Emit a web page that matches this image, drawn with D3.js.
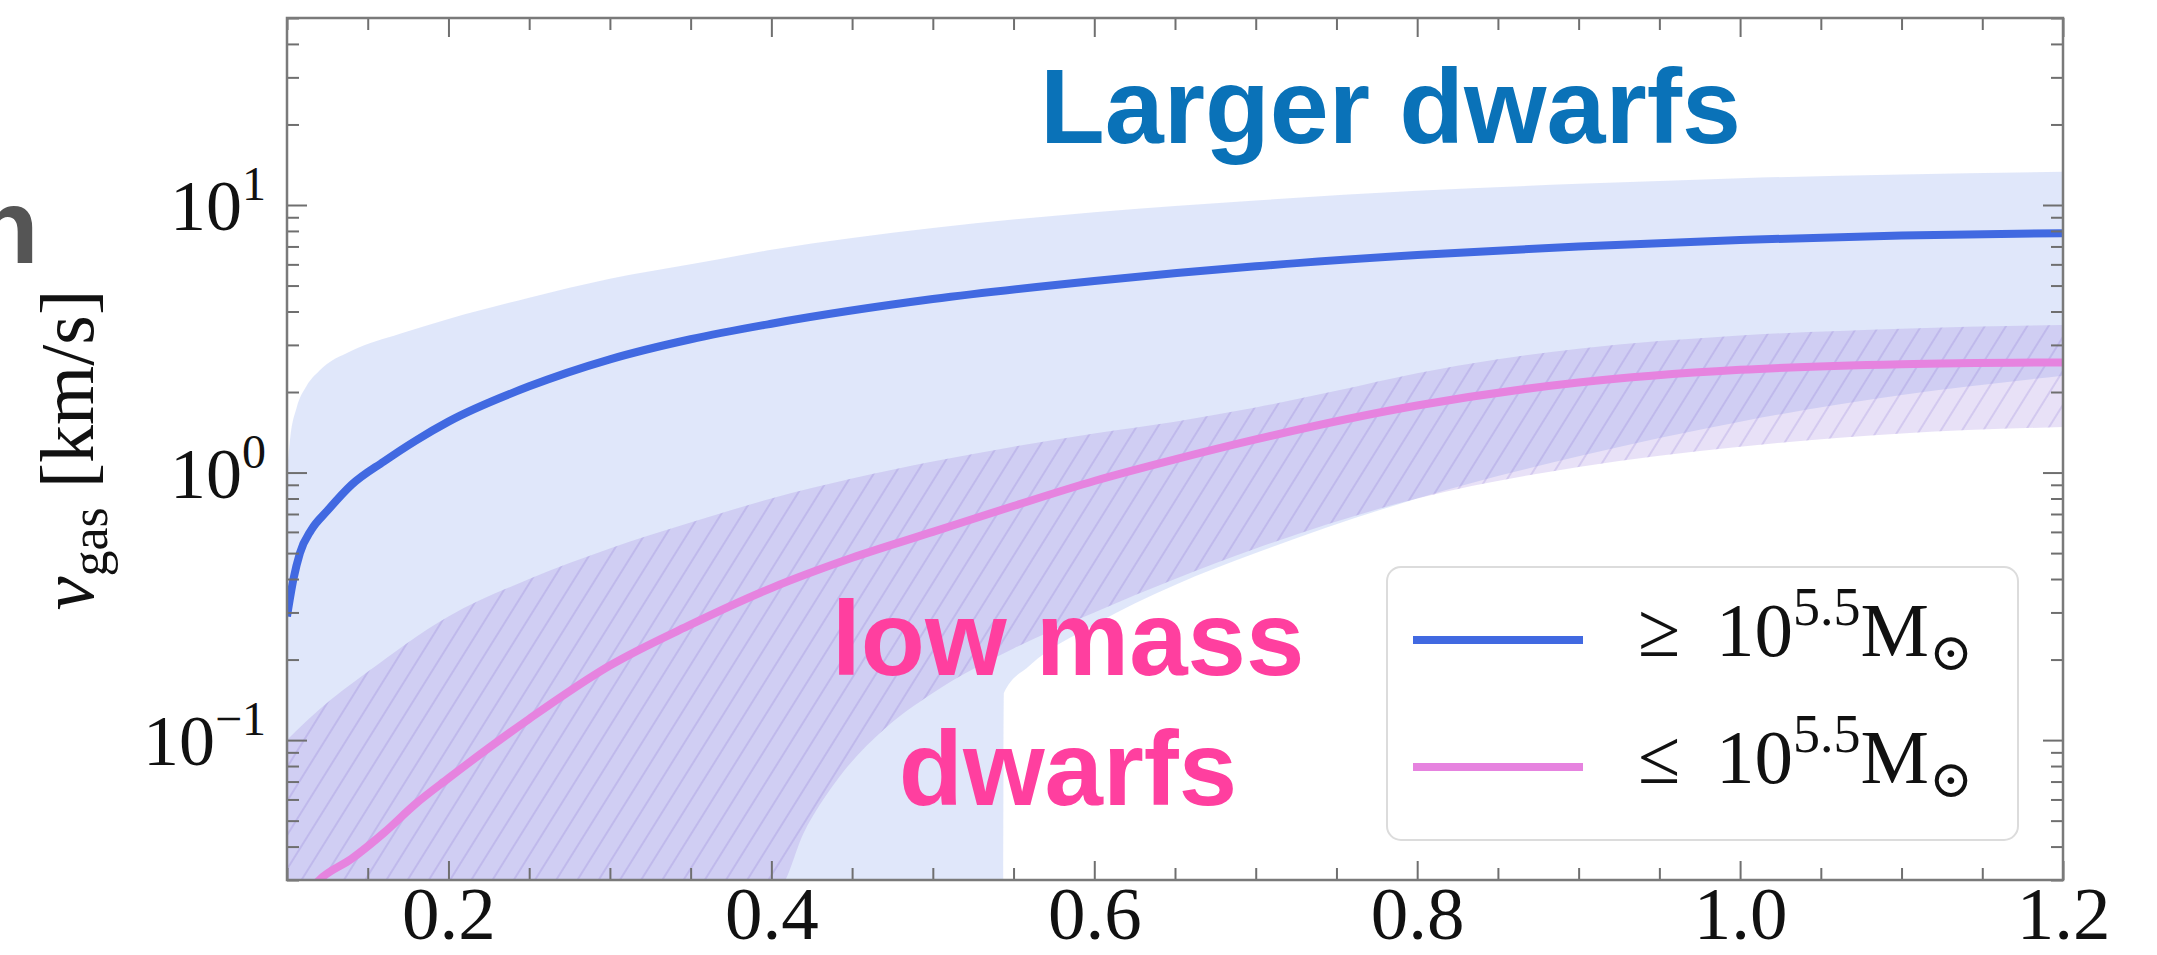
<!DOCTYPE html>
<html>
<head>
<meta charset="utf-8">
<script src="https://cdn.jsdelivr.net/npm/d3@7"></script>
<style>
    body { margin: 0; background: #ffffff; }
    svg  { display: block; }
</style>
</head>
<body>
<svg id="chart" width="2157" height="955"></svg>
<script>
// axes
var v_XDomain     = [0.1, 1.2];
var v_XMajorTicks = [0.2, 0.4, 0.6, 0.8, 1.0, 1.2];
var v_YDomain     = [0.03, 50];
var v_YMajorTicks = [0.1, 1, 10];
var v_YTickExp    = ["\u22121", "0", "1"];

// >= 10^5.5 Msun : median curve
var v_BigX    = [0.100, 0.104, 0.108, 0.115, 0.125, 0.14, 0.16, 0.18, 0.20, 0.25, 0.30, 0.35, 0.40, 0.50, 0.60, 0.70, 0.80, 0.90, 1.00, 1.10, 1.20];
var v_BigV    = [0.29,  0.40,  0.50,  0.61,  0.72,  0.90, 1.10, 1.32, 1.55, 2.10, 2.65, 3.15, 3.60, 4.45, 5.20, 5.90, 6.50, 7.00, 7.40, 7.70, 7.85];
// >= 10^5.5 Msun : band upper / lower
var v_BigHiX  = [0.100, 0.102, 0.106, 0.112, 0.12, 0.14, 0.17, 0.20, 0.25, 0.30, 0.35, 0.40, 0.50, 0.60, 0.70, 0.80, 0.90, 1.00, 1.10, 1.20];
var v_BigHiV  = [1.00,  1.35,  1.75,  2.10,  2.40, 2.85, 3.30, 3.75, 4.50, 5.30, 6.00, 6.80, 8.20, 9.40, 10.4, 11.3, 12.0, 12.6, 13.0, 13.3];
var v_BigLoX  = [0.100, 0.543, 0.544, 0.56, 0.60, 0.65, 0.70, 0.80, 0.90, 1.00, 1.10, 1.20];
var v_BigLoV  = [0.001, 0.001, 0.15,  0.19, 0.27, 0.38, 0.50, 0.80, 1.15, 1.55, 1.95, 2.30];

// <= 10^5.5 Msun : median curve
var v_SmallX   = [0.100, 0.12,  0.14,  0.16,  0.18,  0.20,  0.25,  0.30, 0.35, 0.40, 0.45, 0.50, 0.55, 0.60, 0.65, 0.70, 0.80, 0.90, 1.00, 1.10, 1.20];
var v_SmallV   = [0.021, 0.030, 0.036, 0.045, 0.058, 0.072, 0.120, 0.19, 0.27, 0.37, 0.48, 0.60, 0.75, 0.93, 1.12, 1.33, 1.78, 2.17, 2.42, 2.54, 2.58];
// <= 10^5.5 Msun : band upper / lower
var v_SmallHiX = [0.10, 0.12, 0.15, 0.20, 0.25, 0.30, 0.35, 0.40, 0.45, 0.50, 0.55, 0.60, 0.65, 0.70, 0.75, 0.80, 0.85, 0.90, 1.00, 1.10, 1.20];
var v_SmallHiV = [0.10, 0.13, 0.18, 0.29, 0.40, 0.52, 0.65, 0.80, 0.95, 1.10, 1.25, 1.40, 1.55, 1.75, 2.02, 2.35, 2.65, 2.90, 3.25, 3.45, 3.56];
var v_SmallLoX = [0.10, 0.405, 0.42,  0.44, 0.47, 0.50, 0.55, 0.60, 0.65, 0.70, 0.80, 0.90, 1.00, 1.10, 1.20];
var v_SmallLoV = [0.01, 0.028, 0.045, 0.07, 0.11, 0.15, 0.22, 0.30, 0.40, 0.52, 0.80, 1.05, 1.25, 1.40, 1.48];

var v_Legend   = [{sign: "\u2265", color: "royalblue"}, {sign: "\u2264", color: "#e683df"}];

var v_Plot = {left: 287, right: 2063, top: 18, bottom: 880};



function toPoints(i_X, i_V)
{
    return i_X.map(function (d, i) { return [d, i_V[i]]; });
}



// upper boundary forward, lower boundary backward, closed
function bandPath(i_Line, i_HiX, i_HiV, i_LoX, i_LoV)
{
    let v_Hi = i_Line(toPoints(i_HiX, i_HiV));
    let v_Lo = i_Line(toPoints(i_LoX, i_LoV).reverse());
    return v_Hi + "L" + v_Lo.substring(1) + "Z";
}



function drawChart()
{
    let v_SVG   = d3.select("#chart");
    let v_X     = d3.scaleLinear().domain(v_XDomain).range([v_Plot.left, v_Plot.right]);
    let v_Y     = d3.scaleLog().domain(v_YDomain).range([v_Plot.bottom, v_Plot.top]);
    let v_Line  = d3.line().x(function (d) { return v_X(d[0]); })
                           .y(function (d) { return v_Y(d[1]); })
                           .curve(d3.curveMonotoneX);
    let v_Serif = "'Liberation Serif', 'Times New Roman', serif";
    let v_Sans  = "'Liberation Sans', Arial, Helvetica, sans-serif";

    let v_Defs = v_SVG.append("defs");
    v_Defs.append("clipPath").attr("id", "plotClip")
        .append("rect")
        .attr("x", v_Plot.left).attr("y", v_Plot.top)
        .attr("width", v_Plot.right - v_Plot.left).attr("height", v_Plot.bottom - v_Plot.top);

    let v_Hatch = v_Defs.append("pattern").attr("id", "hatch")
        .attr("patternUnits", "userSpaceOnUse")
        .attr("width", 18).attr("height", 18)
        .attr("patternTransform", "rotate(32)");
    v_Hatch.append("line")
        .attr("x1", 2).attr("y1", 0).attr("x2", 2).attr("y2", 18)
        .attr("stroke", "rgba(120,95,200,0.24)").attr("stroke-width", 1.6);

    // stray glyph of the slide at the left edge
    v_SVG.append("text")
        .attr("x", -26).attr("y", 263)
        .attr("font-family", v_Sans).attr("font-weight", "bold")
        .attr("font-size", 106).attr("fill", "#555555")
        .text("n");

    let v_Area = v_SVG.append("g").attr("clip-path", "url(#plotClip)");

    // bands
    v_Area.append("path")
        .attr("d", bandPath(v_Line, v_BigHiX, v_BigHiV, v_BigLoX, v_BigLoV))
        .attr("fill", "royalblue").attr("fill-opacity", 0.16);
    let v_SmallBand = bandPath(v_Line, v_SmallHiX, v_SmallHiV, v_SmallLoX, v_SmallLoV);
    v_Area.append("path")
        .attr("d", v_SmallBand)
        .attr("fill", "rgb(150,120,220)").attr("fill-opacity", 0.22);
    v_Area.append("path")
        .attr("d", v_SmallBand)
        .attr("fill", "url(#hatch)");

    // median curves
    v_Area.append("path")
        .attr("d", v_Line(toPoints(v_BigX, v_BigV)))
        .attr("fill", "none").attr("stroke", "royalblue").attr("stroke-width", 8);
    v_Area.append("path")
        .attr("d", v_Line(toPoints(v_SmallX, v_SmallV)))
        .attr("fill", "none").attr("stroke", "#e683df").attr("stroke-width", 8);

    // ticks on all four sides, pointing inward
    let v_XMinor = d3.range(0.1, 1.2001, 0.05).filter(function (d) { return Math.abs(d / 0.2 - Math.round(d / 0.2)) > 0.01; });
    let v_YMinor = v_Y.ticks().filter(function (d) { return v_YMajorTicks.indexOf(d) < 0; });
    let v_Axes = [
        {axis: d3.axisBottom(v_X).tickValues(v_XMinor).tickSize(-12),      at: "translate(0," + v_Plot.bottom + ")"},
        {axis: d3.axisBottom(v_X).tickValues(v_XMajorTicks).tickSize(-19), at: "translate(0," + v_Plot.bottom + ")"},
        {axis: d3.axisTop(v_X).tickValues(v_XMinor).tickSize(-12),         at: "translate(0," + v_Plot.top + ")"},
        {axis: d3.axisTop(v_X).tickValues(v_XMajorTicks).tickSize(-19),    at: "translate(0," + v_Plot.top + ")"},
        {axis: d3.axisLeft(v_Y).tickValues(v_YMinor).tickSize(-12),        at: "translate(" + v_Plot.left + ",0)"},
        {axis: d3.axisLeft(v_Y).tickValues(v_YMajorTicks).tickSize(-20),  at: "translate(" + v_Plot.left + ",0)"},
        {axis: d3.axisRight(v_Y).tickValues(v_YMinor).tickSize(-12),       at: "translate(" + v_Plot.right + ",0)"},
        {axis: d3.axisRight(v_Y).tickValues(v_YMajorTicks).tickSize(-20),  at: "translate(" + v_Plot.right + ",0)"}
    ];
    v_Axes.forEach(function (a)
    {
        let v_G = v_SVG.append("g").attr("transform", a.at)
            .call(a.axis.tickFormat("").tickSizeOuter(0));
        v_G.select(".domain").remove();
        v_G.selectAll(".tick line").attr("stroke", "#6f6f6f").attr("stroke-width", 2);
    });

    // frame
    v_SVG.append("rect")
        .attr("x", v_Plot.left).attr("y", v_Plot.top)
        .attr("width", v_Plot.right - v_Plot.left).attr("height", v_Plot.bottom - v_Plot.top)
        .attr("fill", "none").attr("stroke", "#7a7a7a").attr("stroke-width", 2.5);

    // x tick labels
    let v_XLab = v_SVG.append("g").attr("transform", "translate(0," + v_Plot.bottom + ")")
        .call(d3.axisBottom(v_X).tickValues(v_XMajorTicks).tickSize(0).tickPadding(6)
              .tickFormat(d3.format(".1f")));
    v_XLab.select(".domain").remove();
    v_XLab.selectAll("text")
        .attr("font-family", v_Serif).attr("font-size", 75).attr("fill", "#111");

    // y tick labels 10^k
    v_YMajorTicks.forEach(function (d, i)
    {
        let v_T = v_SVG.append("text")
            .attr("x", 266).attr("y", v_Y(d) + 25)
            .attr("text-anchor", "end")
            .attr("font-family", v_Serif).attr("font-size", 72).attr("fill", "#111");
        v_T.append("tspan").text("10");
        v_T.append("tspan").attr("dy", -30).attr("font-size", 48).text(v_YTickExp[i]);
    });

    // y axis title
    let v_YT = v_SVG.append("text")
        .attr("transform", "translate(93,450) rotate(-90)")
        .attr("text-anchor", "middle")
        .attr("font-family", v_Serif).attr("font-size", 76).attr("fill", "#111");
    v_YT.append("tspan").attr("font-style", "italic").text("v");
    v_YT.append("tspan").attr("font-size", 52).attr("dy", 14).text("gas");
    v_YT.append("tspan").attr("dy", -14).text(" [km/s]");

    // legend
    v_SVG.append("rect")
        .attr("x", 1387).attr("y", 567).attr("width", 631).attr("height", 273).attr("rx", 14)
        .attr("fill", "#ffffff").attr("fill-opacity", 0.85)
        .attr("stroke", "#dcdcdc").attr("stroke-width", 2);
    v_Legend.forEach(function (d, i)
    {
        let v_Yc = 640 + i * 127;
        v_SVG.append("line")
            .attr("x1", 1413).attr("x2", 1583).attr("y1", v_Yc).attr("y2", v_Yc)
            .attr("stroke", d.color).attr("stroke-width", 8);
        let v_T = v_SVG.append("text")
            .attr("x", 1638).attr("y", v_Yc + 16)
            .attr("font-family", v_Serif).attr("font-size", 77).attr("fill", "#111");
        v_T.append("tspan").text(d.sign);
        v_T.append("tspan").attr("x", 1716).text("10");
        v_T.append("tspan").attr("dy", -31).attr("font-size", 54).text("5.5");
        v_T.append("tspan").attr("dy", 31).text("M");
        v_T.append("tspan").attr("dy", 14).attr("font-size", 52).attr("font-family", "'DejaVu Serif', serif").text("\u2299");
    });

    // annotations
    v_SVG.append("text")
        .attr("x", 1040).attr("y", 143)
        .attr("font-family", v_Sans).attr("font-weight", "bold").attr("font-size", 106)
        .attr("fill", "#0a72b8")
        .text("Larger dwarfs");
    [["low mass", 675], ["dwarfs", 805]].forEach(function (d)
    {
        v_SVG.append("text")
            .attr("x", 1068).attr("y", d[1])
            .attr("text-anchor", "middle")
            .attr("font-family", v_Sans).attr("font-weight", "bold").attr("font-size", 105)
            .attr("fill", "#ff3f9f")
            .text(d[0]);
    });
}



drawChart();
</script>
</body>
</html>
